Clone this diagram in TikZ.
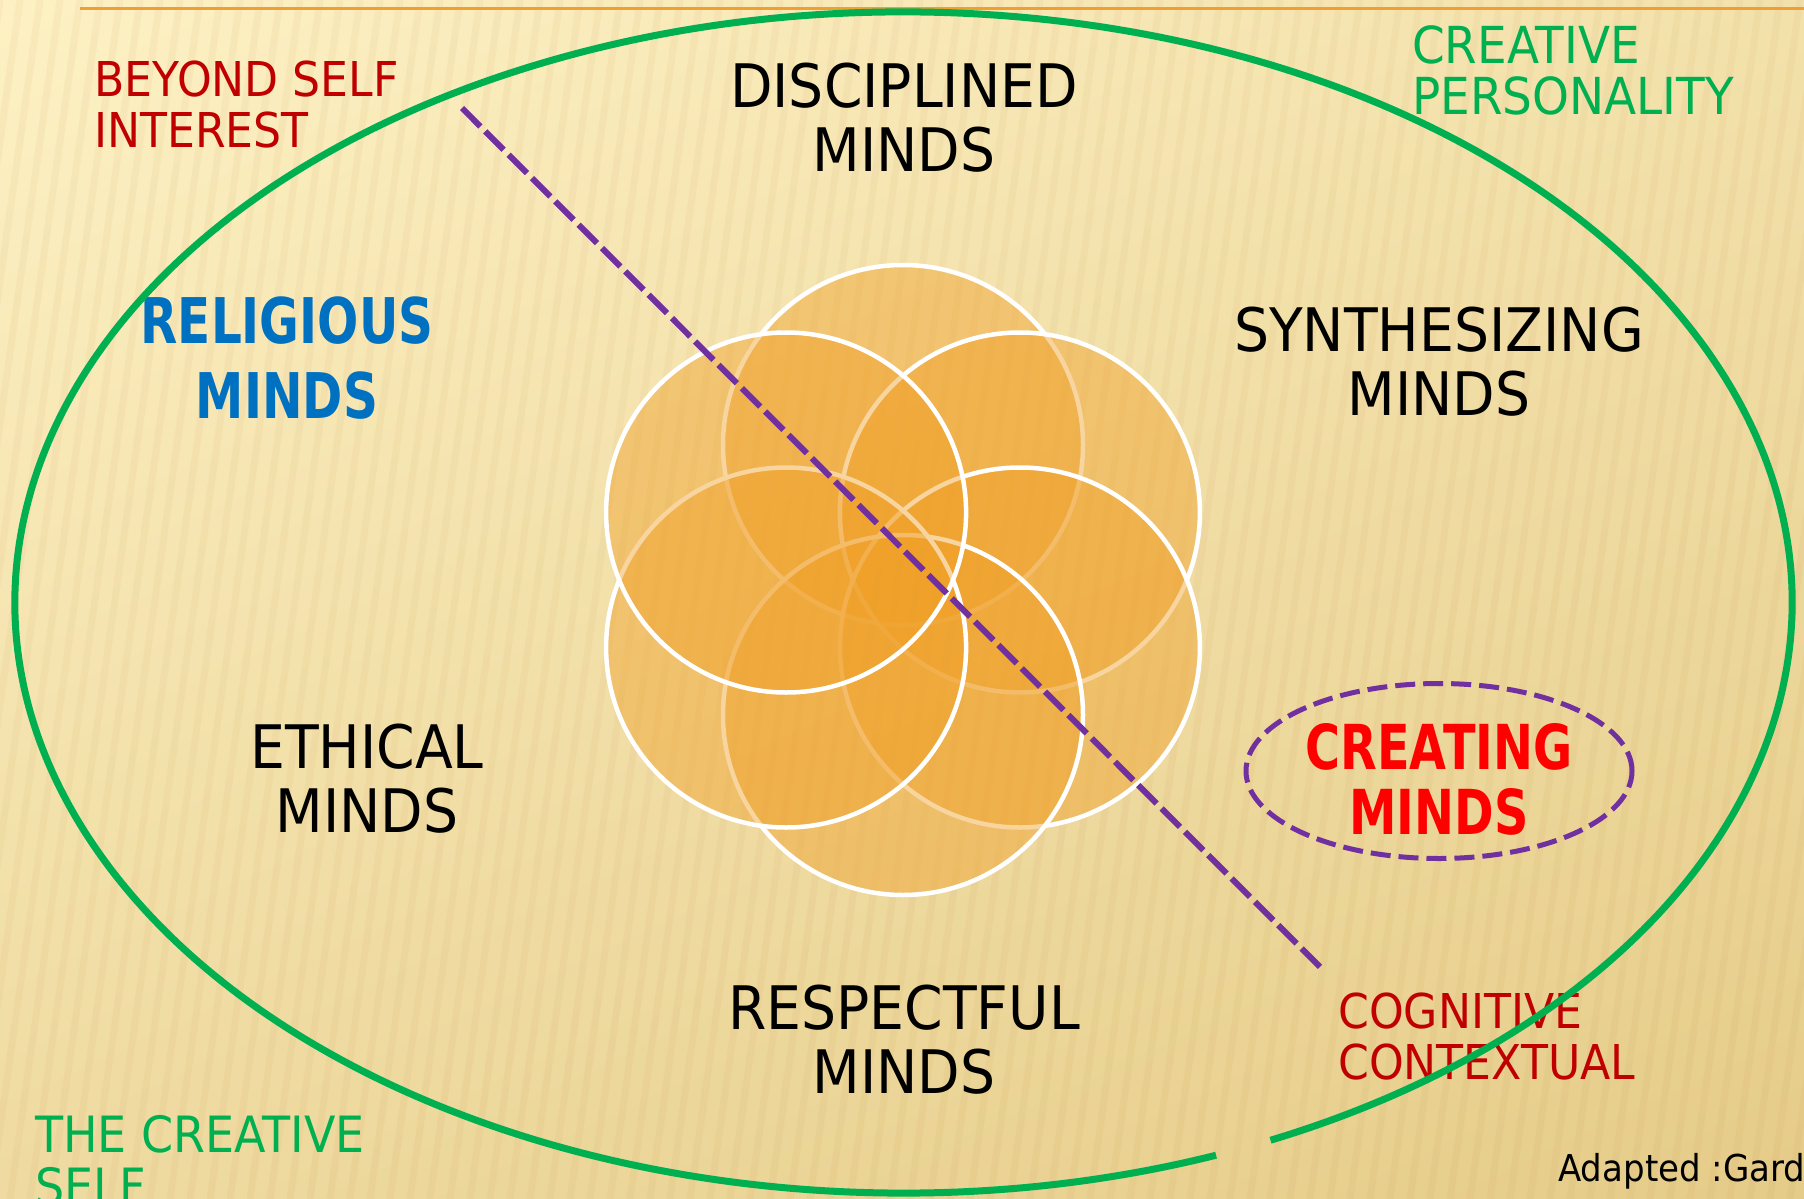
\documentclass[tikz,border=0pt]{standalone}
\usepackage{fontspec}
\setmainfont{DejaVu Sans}[FakeStretch=0.92]
\newfontfamily\boldcond{DejaVu Sans Bold}[FakeStretch=0.77]
\usetikzlibrary{calc}

\definecolor{bgtop}{HTML}{FEF2C6}
\definecolor{bgbot}{HTML}{E4CA86}
\definecolor{petal}{HTML}{F0A028}
\definecolor{rimgreen}{HTML}{00B050}
\definecolor{cutpurple}{HTML}{7030A0}
\definecolor{darkred}{HTML}{C00000}
\definecolor{mindblue}{HTML}{0070C0}
\definecolor{topline}{HTML}{F0A030}

\begin{document}
\begin{tikzpicture}[x=1pt, y=1pt,
  mind/.style={align=center, inner sep=0pt, anchor=north, font=\fontsize{60}{64}\selectfont},
  boldmind/.style={align=center, inner sep=0pt, anchor=north, font=\boldcond\fontsize{62}{65}\selectfont},
  side/.style={align=left, inner sep=0pt, anchor=north west, font=\fontsize{48}{51}\selectfont},
  petalcircle/.style={fill=petal, fill opacity=.45, draw=white, line width=4.5pt}]
\useasboundingbox (0,0) rectangle (1804,-1199);
\clip (0,0) rectangle (1804,-1199);
\shade[top color=bgtop, bottom color=bgbot, shading angle=25] (-300,300) rectangle (2100,-1500);
\foreach \x in {-300,-280,...,2100} \draw[brown, opacity=.06, line width=7pt] (\x,0) --++(-170,-1199);
\draw[topline, line width=3pt] (80,-9) -- (1804,-9);

\coordinate (hub) at (903.5,-602.5);
\coordinate (bloom) at (903,-580);
\foreach \a in {90,30,-30,-90,-150,-210} \draw[petalcircle] ($(bloom)+(\a:135pt)$) circle[radius=180pt];

\coordinate (cutA) at (462,-108);
\coordinate (cutB) at (1322,-969);
\draw[cutpurple, line width=6pt, dash pattern=on 26pt off 7pt] (cutA) -- (cutB);

\node[mind] (disc) at (904,-63) {DISCIPLINED\\MINDS};
\node[mind] (synth) at (1439,-307) {SYNTHESIZING\\MINDS};
\node[mind] (eth) at (367,-724) {ETHICAL\\MINDS};
\node[mind] (resp) at (904,-985) {RESPECTFUL\\MINDS};
\node[boldmind, text=mindblue, font=\boldcond\fontsize{63}{75}\selectfont] (relig) at (287,-297) {RELIGIOUS\\MINDS};
\node[boldmind, text=red] (creat) at (1439,-723) {CREATING\\MINDS};
\draw[cutpurple, line width=5pt, dash pattern=on 20pt off 8pt] (1439,-771) ellipse[x radius=193pt, y radius=87.5pt];

\node[side, text=darkred] (beyond) at (94,-61) {BEYOND SELF\\INTEREST};
\node[side, text=darkred] (cogn) at (1338,-993) {COGNITIVE\\CONTEXTUAL};
\node[side, text=rimgreen, font=\fontsize{51}{51}\selectfont] (persona) at (1412,-25) {CREATIVE\\PERSONALITY};
\node[side, text=rimgreen, font=\fontsize{50}{52}\selectfont] (self) at (35,-1115) {THE CREATIVE\\SELF};
\node[side, font=\fontsize{37}{40}\selectfont] (credit) at (1558,-1153) {Adapted :Gardner};

\draw[rimgreen, line width=7pt] ($(hub)+(-65.6:888.5pt and 590.5pt)$) arc[start angle=-65.6, end angle=290.6, x radius=888.5pt, y radius=590.5pt];
\end{tikzpicture}
\end{document}
